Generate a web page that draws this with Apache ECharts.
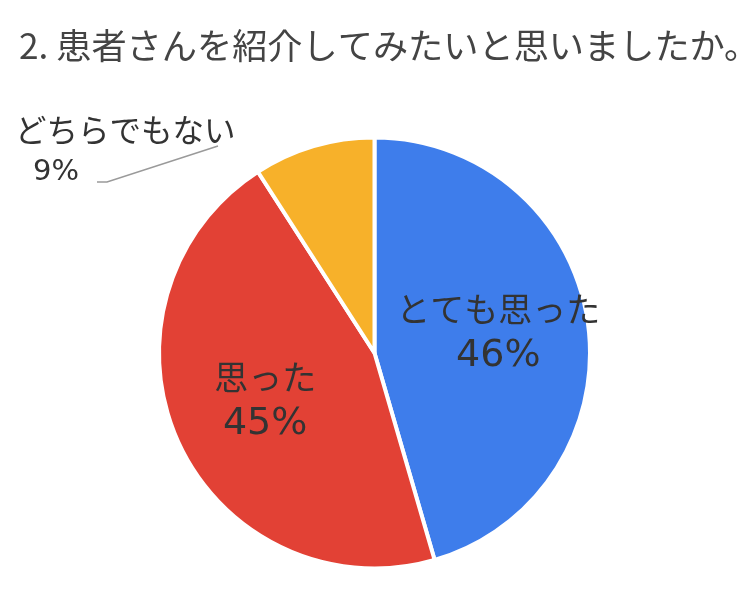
<!DOCTYPE html>
<html><head><meta charset="utf-8">
<script src="https://cdn.jsdelivr.net/npm/echarts@6/dist/echarts.min.js"></script>
<style>html,body{margin:0;padding:0;background:#fff}#c{width:750px;height:614px}</style>
</head><body><div id="c"></div>
<script>
const titleText = '2. 患者さんを紹介してみたいと思いましたか。';
const categories = ['とても思った', '思った', 'どちらでもない'];
const values = [45.5, 45.4, 9.1];
const colors = ['#3E7DEB', '#E24135', '#F7B12A'];

const CX = 374.5, CY = 353, R = 215.5;
const FONT = '"Noto Sans CJK JP", "Noto Sans", sans-serif';
const NUMFONT = '"DejaVu Sans", "Noto Sans CJK JP", sans-serif';

const insideRich = {
  n: {fontSize: 34, lineHeight: 47, color: '#333', fontFamily: FONT},
  p: {fontSize: 38, lineHeight: 47, color: '#333', fontFamily: NUMFONT}
};

const data = categories.map((name, i) => {
  const item = {name: name, value: values[i], itemStyle: {color: colors[i]}};
  if (i === 2) {
    item.label = {
      position: 'outside',
      align: 'left',
      formatter: '{n|{b}}\n{p|{d}%}',
      rich: {
        n: {fontSize: 31.5, lineHeight: 42, color: '#333', fontFamily: FONT},
        p: {fontSize: 29, lineHeight: 42, color: '#333', fontFamily: NUMFONT, padding: [0, 0, 0, 18]}
      }
    };
    item.labelLine = {show: true, lineStyle: {color: '#9a9a9a', width: 1.5}};
  }
  return item;
});

const chart = echarts.init(document.getElementById('c'), null, {renderer: 'canvas'});
chart.setOption({
  animation: false,
  backgroundColor: '#fff',
  title: {
    text: titleText,
    left: 14, top: 23,
    textStyle: {fontSize: 35.2, fontWeight: 'normal', color: '#444', fontFamily: FONT}
  },
  series: [{
    type: 'pie',
    center: [CX, CY],
    radius: R,
    startAngle: 90,
    clockwise: true,
    percentPrecision: 0,
    avoidLabelOverlap: false,
    itemStyle: {borderColor: '#fff', borderWidth: 4},
    emphasis: {disabled: true},
    label: {
      show: true,
      position: 'inside',
      formatter: '{n|{b}}\n{p|{d}%}',
      rich: insideRich
    },
    labelLine: {show: false},
    labelLayout: function (params) {
      const i = params.dataIndex;
      const r = params.labelRect;
      if (i === 2) {
        return {
          x: 15, y: 109, align: 'left', verticalAlign: 'top',
          labelLinePoints: [[218, 146], [107, 182], [97, 182]]
        };
      }
      const lx = r.x + r.width / 2, ly = r.y + r.height / 2;
      const vx = lx - CX, vy = ly - CY;
      const d = Math.hypot(vx, vy);
      const target = 0.57 * R;
      return {dx: vx / d * (target - d) + 2, dy: vy / d * (target - d) - 3};
    },
    data: data
  }]
});
</script>
</body></html>
